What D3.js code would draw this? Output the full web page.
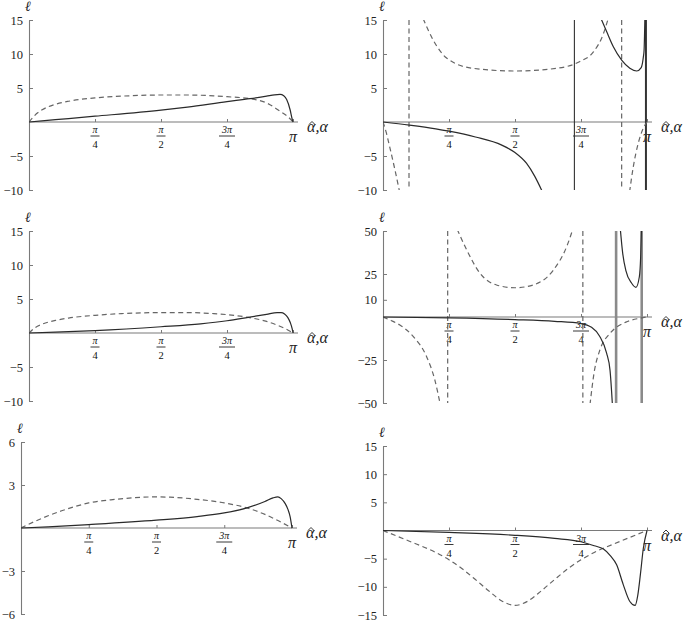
<!DOCTYPE html>
<html><head><meta charset="utf-8">
<script src="https://cdn.jsdelivr.net/npm/d3@7"></script>
<style>body{margin:0;background:#fff} svg{display:block}</style>
</head><body>
<svg id="c" width="685" height="621"></svg>
<script>
// ---------- data (x in units of π) ----------
const xTickValues = [0.25, 0.5, 0.75];
const xTickNumerators = ["π", "π", "3π"];
const xTickDenominators = ["4", "2", "4"];
const xEndLabel = "π";
const yTicks1 = [15, 10, 5, -5, -10];
const yTicks4 = [50, 25, 10, -25, -50];
const yTicks5 = [6, 3, -3, -6];
const yTicks6 = [15, 10, 5, -5, -10, -15];

const p1Solid = [[[0,0],[0.1,0.34],[0.25,0.85],[0.5,1.75],[0.6,2.2],[0.75,3.0],[0.837,3.43],[0.9,3.8],[0.93,4.0],[0.951,4.05],[0.965,3.85],[0.976,3.3],[0.989,1.8],[0.997,0.4],[1,0]]];
const p1Dashed = [[[0,0],[0.02,0.9],[0.05,1.8],[0.1,2.6],[0.15,3.05],[0.2,3.35],[0.25,3.55],[0.35,3.8],[0.5,3.97],[0.6,3.97],[0.7,3.85],[0.75,3.72],[0.837,3.43],[0.9,2.8],[0.95,1.6],[0.98,0.8],[1,0]]];

const p2Solid = [
  [[0,0],[0.1,-0.45],[0.2,-1.0],[0.25,-1.35],[0.35,-2.2],[0.45,-3.4],[0.5,-4.5],[0.544,-6.1],[0.575,-8.0],[0.603,-10.2]],
  [[0.826,15.2],[0.847,13.3],[0.872,11.1],[0.904,9.1],[0.935,7.9],[0.961,7.5],[0.978,8.0],[0.986,9.5],[0.989,10.6],[0.992,15.2]]
];
const p2Dashed = [
  [[0,0],[0.012,-1.5],[0.025,-3.6],[0.045,-7],[0.063,-10.3]],
  [[0.152,15.2],[0.19,12.06],[0.241,9.4],[0.34,7.9],[0.5,7.5],[0.658,7.9],[0.746,8.9],[0.797,10.3],[0.835,13],[0.853,15.2]],
  [[0.934,-10.3],[0.948,-6.6],[0.967,-3.1],[0.985,-1.0],[1,0]]
];
const p2PolesSolid = [0.725, 0.996];
const p2PolesDashed = [0.0985, 0.904];

const p3Solid = [[[0,0],[0.1,0.12],[0.25,0.35],[0.5,0.92],[0.65,1.35],[0.75,1.8],[0.83,2.3],[0.9,2.75],[0.94,3.0],[0.955,3.0],[0.968,2.8],[0.98,2.3],[0.99,1.5],[0.997,0.6],[1,0]]];
const p3Dashed = [[[0,0],[0.02,0.7],[0.05,1.3],[0.1,1.85],[0.15,2.2],[0.25,2.6],[0.35,2.85],[0.5,3.0],[0.6,3.0],[0.7,2.85],[0.75,2.7],[0.83,2.3],[0.9,1.7],[0.95,1.0],[0.98,0.45],[1,0]]];

const p4Solid = [
  [[0,0],[0.25,-0.5],[0.5,-1.5],[0.65,-2.5],[0.75,-3.8],[0.79,-6],[0.82,-11],[0.847,-21],[0.86,-31],[0.869,-51]],
  [[0.899,51],[0.908,37],[0.92,27],[0.942,19.6],[0.958,17.2],[0.971,23.4],[0.976,35],[0.979,51]]
];
const p4Dashed = [
  [[0,0],[0.03,-2],[0.064,-4.7],[0.115,-11.4],[0.165,-23],[0.197,-37],[0.217,-51]],
  [[0.281,51],[0.317,39],[0.367,25.5],[0.43,18.6],[0.5,17],[0.568,18.6],[0.644,27],[0.696,41],[0.719,51]],
  [[0.784,-51],[0.80,-32],[0.822,-19],[0.86,-9.5],[0.92,-3],[0.97,-0.8],[1,0]]
];
const p4PolesSolid = [0.883, 0.98];
const p4PolesDashed = [0.245, 0.757];

const p5Solid = [[[0,0],[0.1,0.08],[0.25,0.24],[0.5,0.55],[0.65,0.8],[0.75,1.05],[0.834,1.4],[0.9,1.85],[0.93,2.1],[0.948,2.17],[0.96,2.05],[0.975,1.7],[0.985,1.3],[0.993,0.8],[1,0]]];
const p5Dashed = [[[0,0],[0.05,0.45],[0.1,0.85],[0.15,1.2],[0.2,1.5],[0.25,1.75],[0.35,2.0],[0.45,2.15],[0.5,2.17],[0.55,2.15],[0.65,2.0],[0.75,1.75],[0.834,1.4],[0.9,0.95],[0.95,0.5],[1,0]]];

const p6Solid = [[[0,0],[0.25,-0.35],[0.5,-0.85],[0.65,-1.4],[0.75,-2.0],[0.8,-2.7],[0.835,-3.3],[0.86,-4.4],[0.885,-6.1],[0.91,-9.6],[0.935,-12.6],[0.955,-13.3],[0.965,-11.5],[0.975,-7.8],[0.986,-3.2],[1,0]]];
const p6Dashed = [[[0,0],[0.1,-1.9],[0.2,-3.9],[0.25,-5.2],[0.3,-6.8],[0.35,-8.7],[0.4,-10.7],[0.45,-12.5],[0.5,-13.3],[0.55,-12.5],[0.6,-10.7],[0.65,-8.7],[0.7,-6.8],[0.75,-5.2],[0.8,-3.9],[0.9,-1.9],[1,0]]];

// ---------- layout ----------
const panels = [
  {x0:29,  x1:293, yTop:20,  yBot:190, dom:[-10,15], ticks:yTicks1, solid:p1Solid, dashed:p1Dashed, pS:[], pD:[]},
  {x0:383, x1:647, yTop:20,  yBot:190, dom:[-10,15], ticks:yTicks1, solid:p2Solid, dashed:p2Dashed, pS:p2PolesSolid, pD:p2PolesDashed, poleStyle:"dark"},
  {x0:29,  x1:293, yTop:231, yBot:401, dom:[-10,15], ticks:yTicks1, solid:p3Solid, dashed:p3Dashed, pS:[], pD:[]},
  {x0:383, x1:647, yTop:231, yBot:403, dom:[-50,50], ticks:yTicks4, solid:p4Solid, dashed:p4Dashed, pS:p4PolesSolid, pD:p4PolesDashed, poleStyle:"gray"},
  {x0:21,  x1:292, yTop:442, yBot:614, dom:[-6,6],   ticks:yTicks5, solid:p5Solid, dashed:p5Dashed, pS:[], pD:[]},
  {x0:383, x1:647, yTop:446, yBot:615, dom:[-15,15], ticks:yTicks6, solid:p6Solid, dashed:p6Dashed, pS:[], pD:[]}
];

const svg = d3.select("#c");
const serif = "'Liberation Serif','Times New Roman',serif";
const axisCol = "#7a7a7a";
const fmt = d => d < 0 ? "\u2212" + Math.abs(d) : String(d);

panels.forEach((p, i) => {
  const x = d3.scaleLinear().domain([0, 1]).range([p.x0, p.x1]);
  const y = d3.scaleLinear().domain(p.dom).range([p.yBot, p.yTop]);
  const g = svg.append("g");
  const y0 = y(0);

  const cid = "clip" + i;
  svg.append("clipPath").attr("id", cid).append("rect")
    .attr("x", p.x0).attr("y", p.yTop).attr("width", p.x1 - p.x0 + 6).attr("height", p.yBot - p.yTop);

  // y axis
  const ya = d3.axisLeft(y).tickValues(p.ticks).tickSizeInner(-4).tickSizeOuter(0).tickPadding(6).tickFormat(fmt);
  const yg = g.append("g").attr("transform", `translate(${p.x0},0)`).call(ya);
  yg.attr("font-family", serif).attr("font-size", 12.5);
  yg.select(".domain").attr("stroke", axisCol).attr("stroke-width", 1.1);
  yg.selectAll(".tick line").attr("stroke", axisCol);
  yg.selectAll(".tick text").attr("fill", "#222");

  // x axis
  g.append("line").attr("x1", p.x0).attr("x2", p.x1 + 5).attr("y1", y0).attr("y2", y0)
    .attr("stroke", axisCol).attr("stroke-width", 1.1);
  const xa = d3.axisBottom(x).tickValues(xTickValues.concat([1])).tickSizeInner(-3).tickSizeOuter(0).tickFormat("");
  const xg = g.append("g").attr("transform", `translate(0,${y0})`).call(xa);
  xg.select(".domain").remove();
  xg.selectAll(".tick line").attr("stroke", axisCol);

  // fraction tick labels
  xTickValues.forEach((t, k) => {
    const cx = x(t);
    const w = xTickNumerators[k].length > 1 ? 8 : 4.5;
    g.append("text").attr("x", cx).attr("y", y0 + 11).attr("text-anchor", "middle")
      .attr("font-family", serif).attr("font-size", 10).attr("font-style", "italic").attr("fill", "#111")
      .text(xTickNumerators[k]);
    g.append("line").attr("x1", cx - w).attr("x2", cx + w).attr("y1", y0 + 14).attr("y2", y0 + 14)
      .attr("stroke", "#222").attr("stroke-width", 0.9);
    g.append("text").attr("x", cx).attr("y", y0 + 26).attr("text-anchor", "middle")
      .attr("font-family", serif).attr("font-size", 10.5).attr("fill", "#111")
      .text(xTickDenominators[k]);
  });
  g.append("text").attr("x", x(1)).attr("y", y0 + 20).attr("text-anchor", "middle")
    .attr("font-family", serif).attr("font-size", 16).attr("font-style", "italic").attr("fill", "#222")
    .text(xEndLabel);

  // axis title  α̂,α  (hat drawn as a small stroke above the first α)
  const lx = p.x1 + 14;
  g.append("text").attr("x", lx).attr("y", y0 + 10)
    .attr("font-family", serif).attr("font-size", 16).attr("font-style", "italic").attr("fill", "#222")
    .text("\u03B1,\u03B1");
  const hx = lx + 5;
  g.append("path").attr("d", `M${hx - 3},${y0 + 2.5}L${hx},${y0 - 0.5}L${hx + 3},${y0 + 2.5}`)
    .attr("fill", "none").attr("stroke", "#222").attr("stroke-width", 0.9);
  // y title ℓ
  g.append("text").attr("x", p.x0 - 1).attr("y", p.yTop - 9).attr("text-anchor", "middle")
    .attr("font-family", serif).attr("font-size", 14).attr("font-style", "italic").attr("fill", "#222")
    .text("\u2113");

  const plot = g.append("g").attr("clip-path", `url(#${cid})`);
  const line = d3.line().x(d => x(d[0])).y(d => y(d[1])).curve(d3.curveMonotoneX);

  p.pD.forEach(t => {
    plot.append("line").attr("x1", x(t)).attr("x2", x(t)).attr("y1", p.yTop).attr("y2", p.yBot)
      .attr("stroke", "#666").attr("stroke-width", 1.2).attr("stroke-dasharray", "5,3.5");
  });
  p.pS.forEach((t, k) => {
    const gray = p.poleStyle === "gray";
    plot.append("line").attr("x1", x(t)).attr("x2", x(t)).attr("y1", p.yTop).attr("y2", p.yBot)
      .attr("stroke", gray ? "#8a8a8a" : "#333")
      .attr("stroke-width", gray ? 2.6 : (k === 1 ? 2 : 1.1));
  });

  p.dashed.forEach(seg => {
    plot.append("path").attr("d", line(seg)).attr("fill", "none")
      .attr("stroke", "#666").attr("stroke-width", 1.2).attr("stroke-dasharray", "5,3.5");
  });
  p.solid.forEach(seg => {
    plot.append("path").attr("d", line(seg)).attr("fill", "none")
      .attr("stroke", "#2a2a2a").attr("stroke-width", 1.2);
  });
});
</script>
</body></html>
